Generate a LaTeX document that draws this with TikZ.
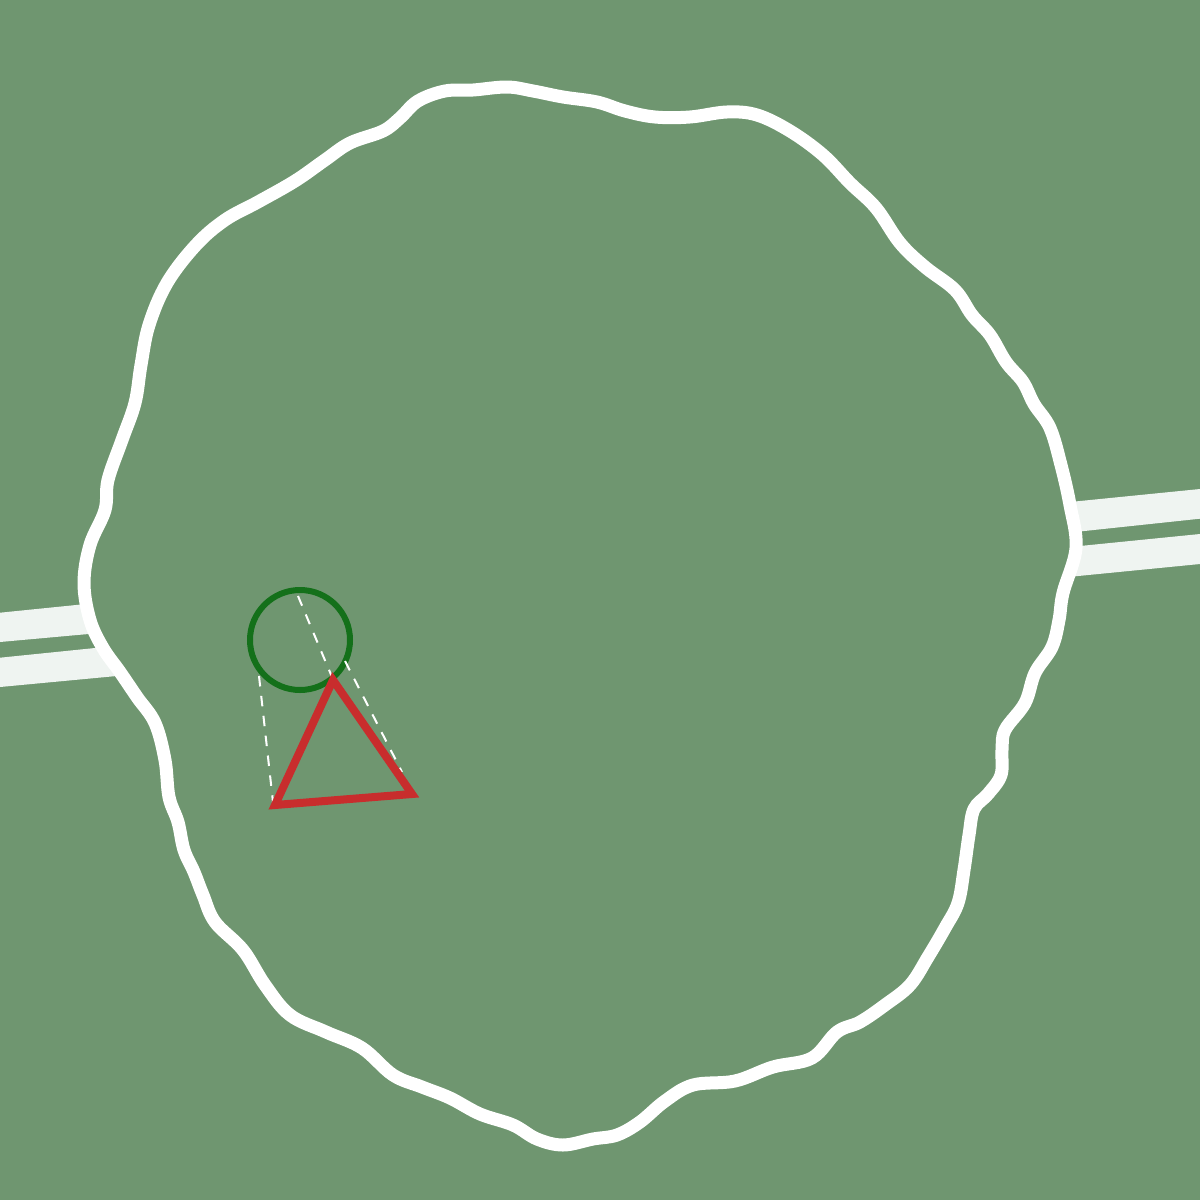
\documentclass[tikz,border=0pt]{standalone}
\definecolor{bgc}{HTML}{6F9670}
\definecolor{stripc}{HTML}{EFF4F1}
\definecolor{ringc}{HTML}{14701A}
\definecolor{tric}{HTML}{C82D2D}
\newlength{\pxu}\setlength{\pxu}{0.01cm}
\tikzset{
  outline/.style={draw=white,line width=13\pxu,line join=round},
  strip/.style={fill=stripc,draw=none},
  ring/.style={draw=ringc,line width=6\pxu},
  tri/.style={draw=tric,line width=8\pxu,line join=miter},
  guide/.style={draw=white,line width=2\pxu,dash pattern=on 10.5\pxu off 9.5\pxu}
}
\begin{document}
\begin{tikzpicture}[x=0.01cm,y=-0.01cm]
\useasboundingbox (0,0) rectangle (1200,1200);
\fill[bgc] (0,0) rectangle (1200,1200);
\fill[strip] (0,612.7) -- (86,604) -- (94,633.5) -- (0,642) -- cycle;
\fill[strip] (0,657.7) -- (100,647.5) -- (122,675.5) -- (0,687) -- cycle;
\fill[strip] (1200,489) -- (1070,502) -- (1075,532) -- (1200,518.7) -- cycle;
\fill[strip] (1200,534) -- (1075,546.5) -- (1068,577) -- (1200,564) -- cycle;
\draw[outline] plot[smooth cycle,tension=0.6] coordinates {
(473,90)(507,87)(533,91)(563,97)(597,102)(625,111)(655,117)(690,117)(727,112)(757,115)(790,131)(823,155)(850,183)(876,208)(900,243)(925,267)(955,290)(972,315)(990,335)(1006,362)(1023,382)(1034,404)(1050,428)(1061,465)(1070,505)(1076,548)(1063,593)(1059,620)(1052,647)(1035,673)(1025,703)(1005,730)(1002,750)(1001,775)(988,794)(974,809)(969,835)(964,870)(958,903)(945,928)(928,957)(910,985)(885,1005)(860,1022)(837,1032)(812,1058)(773,1067)(735,1081)(693,1085)(665,1101)(640,1122)(617,1135)(593,1139)(563,1145)(537,1139)(513,1125)(480,1114)(450,1098)(422,1087)(393,1075)(362,1048)(326,1032)(290,1015)(265,985)(243,950)(215,922)(203,895)(194,872)(184,850)(178,822)(169,797)(165,760)(155,723)(137,697)(120,672)(103,648)(90,620)(84,583)(90,545)(105,510)(108,480)(122,440)(135,403)(141,365)(149,325)(167,283)(196,245)(225,220)(258,202)(295,181)(325,160)(350,143)(383,131)(400,118)(418,101)(445,91)};
\draw[ring] (300,640) circle (50);
\coordinate (a1) at (298,596); \coordinate (a2) at (332,677);
\coordinate (b1) at (345,661); \coordinate (b2) at (402,772);
\coordinate (c1) at (259,676); \coordinate (c2) at (273,802);
\draw[guide] (a1) -- (a2);
\draw[guide] (b1) -- (b2);
\draw[guide] (c1) -- (c2);
\draw[tri] (275,805) -- (412,794) -- (333,680) -- cycle;
\end{tikzpicture}
\end{document}
